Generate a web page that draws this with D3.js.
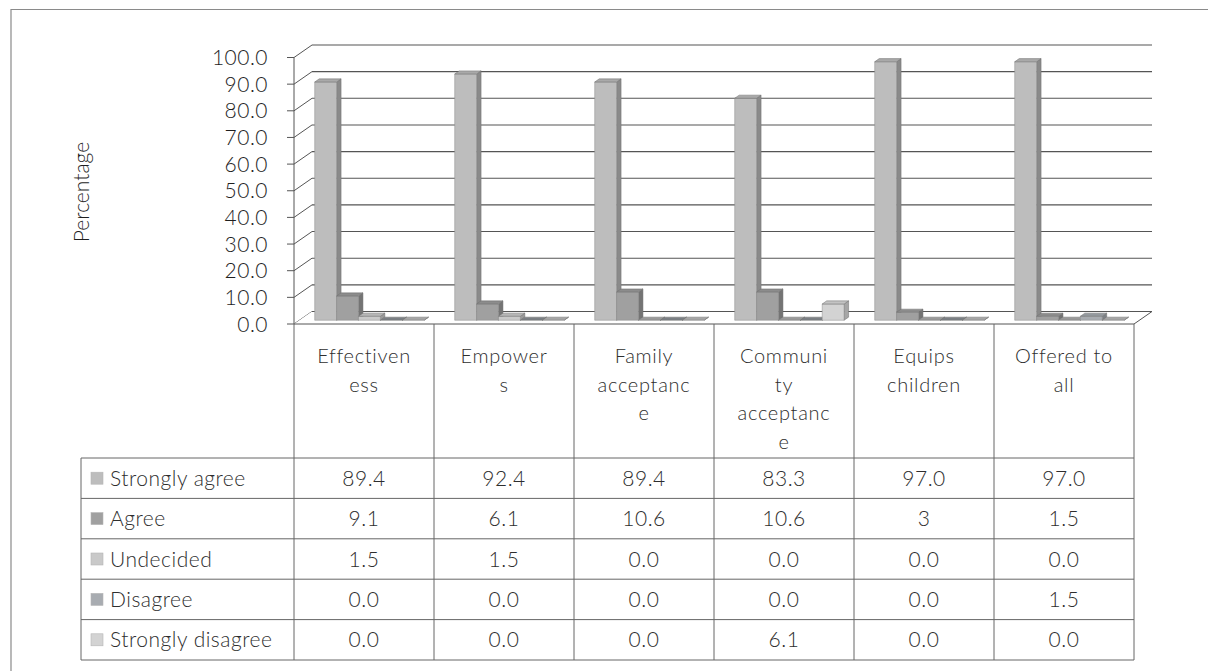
<!DOCTYPE html>
<html>
<head>
<meta charset="utf-8">
<script src="https://cdn.jsdelivr.net/npm/d3@7/dist/d3.min.js"></script>
<style>
  html, body { margin: 0; padding: 0; background: #ffffff; }
  svg { display: block; }
  text { font-family: Lato, "Open Sans", "DejaVu Sans", sans-serif; fill: #2e2e2e; }
</style>
</head>
<body>
<svg id="chart" width="1208" height="671"></svg>
<script>
// Survey responses per statement (percent)
const categories = ["Effectiveness", "Empowers", "Family acceptance",
                    "Community acceptance", "Equips children", "Offered to all"];
// Header text of each column, as wrapped in the data table
const categoryLines = [
  ["Effectiven", "ess"],
  ["Empower", "s"],
  ["Family", "acceptanc", "e"],
  ["Communi", "ty", "acceptanc", "e"],
  ["Equips", "children"],
  ["Offered to", "all"]
];
const seriesNames = ["Strongly agree", "Agree", "Undecided", "Disagree", "Strongly disagree"];
const stronglyAgree    = ["89.4", "92.4", "89.4", "83.3", "97.0", "97.0"];
const agree            = ["9.1", "6.1", "10.6", "10.6", "3", "1.5"];
const undecided        = ["1.5", "1.5", "0.0", "0.0", "0.0", "0.0"];
const disagree         = ["0.0", "0.0", "0.0", "0.0", "0.0", "1.5"];
const stronglyDisagree = ["0.0", "0.0", "0.0", "6.1", "0.0", "0.0"];
const yTickValues = [0, 10, 20, 30, 40, 50, 60, 70, 80, 90, 100];
const yTitle = "Percentage";

const seriesText = [stronglyAgree, agree, undecided, disagree, stronglyDisagree];

// Shading of each series: front face, side face, top face
const seriesColors = [
  { front: "#bdbdbd", side: "#8a8a8a", top: "#a9a9a9" },
  { front: "#a0a0a0", side: "#747474", top: "#8c8c8c" },
  { front: "#c9c9c9", side: "#9a9a9a", top: "#b6b6b6" },
  { front: "#a8acb1", side: "#7c8085", top: "#959a9f" },
  { front: "#d3d3d3", side: "#a6a6a6", top: "#c3c3c3" }
];

const svg = d3.select("#chart");

// Plot frame
const plotLeft = 294, plotRight = 1134;
const depthX = 18, depthY = -12.5;          // offset of the back wall
const barT0 = 0.3, barT1 = 0.55;            // depth of the bar front / back faces

const x = d3.scaleBand().domain(categories).range([plotLeft, plotRight]).padding(0);
const sub = d3.scaleBand().domain(seriesNames).range([0, x.bandwidth()])
  .paddingInner(0).paddingOuter(0.7);
const y = d3.scaleLinear().domain([0, 100]).range([324, 57.5]);
const proj = (px, py, t) => [px + depthX * t, py + depthY * t];
const fmt = d3.format(".1f");

const gridColor = "#555555";
const lineColor = "#666666";

// Outer chart border (top and left edges)
svg.append("path")
  .attr("d", "M11,671 L11,9.5 L1208,9.5")
  .attr("fill", "none").attr("stroke", "#8a8a8a").attr("stroke-width", 1.2);

// Back wall gridlines, side-wall diagonals and tick marks
const grid = svg.append("g");
yTickValues.forEach(v => {
  const yf = y(v);
  const bl = proj(plotLeft, yf, 1), br = proj(plotRight, yf, 1);
  grid.append("line").attr("x1", bl[0]).attr("y1", bl[1]).attr("x2", br[0]).attr("y2", br[1])
    .attr("stroke", gridColor).attr("stroke-width", 1.1);
  grid.append("line").attr("x1", plotLeft).attr("y1", yf).attr("x2", bl[0]).attr("y2", bl[1])
    .attr("stroke", gridColor).attr("stroke-width", 1);
  grid.append("line").attr("x1", plotLeft - 7).attr("y1", yf).attr("x2", plotLeft).attr("y2", yf)
    .attr("stroke", gridColor).attr("stroke-width", 1);
});

// Y axis line
svg.append("line").attr("x1", plotLeft).attr("y1", y(100)).attr("x2", plotLeft).attr("y2", y(0))
  .attr("stroke", gridColor).attr("stroke-width", 1);

// Y tick labels
svg.append("g").selectAll("text").data(yTickValues).join("text")
  .attr("x", 268).attr("y", d => y(d) + 7.5)
  .attr("text-anchor", "end")
  .attr("font-size", 21).attr("letter-spacing", 0.5).attr("font-weight", 300)
  .style("fill", "#1e1e1e")
  .text(d => fmt(d));

// Y axis title
svg.append("text")
  .attr("transform", "translate(89,192) rotate(-90)")
  .attr("text-anchor", "middle")
  .attr("font-size", 21).attr("font-weight", 300)
  .style("fill", "#1e1e1e")
  .text(yTitle);

// Floor
const fl = proj(plotLeft, y(0), 1), fr = proj(plotRight, y(0), 1);
svg.append("polygon")
  .attr("points", [[plotLeft, y(0)], [plotRight, y(0)], fr, fl].map(p => p.join(",")).join(" "))
  .attr("fill", "#ffffff");
svg.append("line").attr("x1", fl[0]).attr("y1", fl[1]).attr("x2", fr[0]).attr("y2", fr[1])
  .attr("stroke", gridColor).attr("stroke-width", 1);

// 3D columns
const bars = svg.append("g");
categories.forEach((cat, ci) => {
  seriesNames.forEach((s, si) => {
    const v = +seriesText[si][ci];
    const c = seriesColors[si];
    const xl = x(cat) + sub(s), xr = xl + sub.bandwidth();
    const yb = y(0), yt = y(v);
    const fTL = proj(xl, yt, barT0), fTR = proj(xr, yt, barT0);
    const fBL = proj(xl, yb, barT0), fBR = proj(xr, yb, barT0);
    const bTL = proj(xl, yt, barT1), bTR = proj(xr, yt, barT1);
    const bBR = proj(xr, yb, barT1);
    const pts = a => a.map(p => p.join(",")).join(" ");
    const g = bars.append("g");
    // right side face
    g.append("polygon").attr("points", pts([fTR, bTR, bBR, fBR]))
      .attr("fill", c.side).attr("stroke", "#6e6e6e").attr("stroke-width", 0.5);
    // front face
    if (v > 0) {
      g.append("polygon").attr("points", pts([fTL, fTR, fBR, fBL]))
        .attr("fill", c.front).attr("stroke", "#8c8c8c").attr("stroke-width", 0.5);
    }
    // top face
    g.append("polygon").attr("points", pts([fTL, fTR, bTR, bTL]))
      .attr("fill", v > 0 ? c.top : c.side).attr("stroke", "#6e6e6e").attr("stroke-width", 0.5);
  });
});

// Front floor edge and right floor edge
svg.append("line").attr("x1", plotLeft).attr("y1", y(0)).attr("x2", plotRight).attr("y2", y(0))
  .attr("stroke", gridColor).attr("stroke-width", 1);
svg.append("line").attr("x1", plotRight).attr("y1", y(0)).attr("x2", fr[0]).attr("y2", fr[1])
  .attr("stroke", gridColor).attr("stroke-width", 1);

// Data table
const tableLeft = 81, headerTop = y(0), rowTop = 458, rowH = 40.4;
const rowY = i => rowTop + rowH * i;
const tableBottom = rowY(seriesNames.length);
const table = svg.append("g");

// column separators
d3.range(categories.length + 1).forEach(i => {
  const cx = plotLeft + x.bandwidth() * i;
  table.append("line").attr("x1", cx).attr("y1", headerTop).attr("x2", cx).attr("y2", tableBottom)
    .attr("stroke", lineColor).attr("stroke-width", 1);
});
table.append("line").attr("x1", tableLeft).attr("y1", rowTop).attr("x2", tableLeft).attr("y2", tableBottom)
  .attr("stroke", lineColor).attr("stroke-width", 1);
// row separators
d3.range(seriesNames.length + 1).forEach(i => {
  table.append("line").attr("x1", tableLeft).attr("y1", rowY(i)).attr("x2", plotRight).attr("y2", rowY(i))
    .attr("stroke", lineColor).attr("stroke-width", 1);
});

// column headers
categories.forEach((cat, ci) => {
  const t = table.append("text")
    .attr("x", x(cat) + x.bandwidth() / 2)
    .attr("text-anchor", "middle")
    .attr("font-size", 20).attr("letter-spacing", 0.7).attr("font-weight", 300);
  categoryLines[ci].forEach((ln, li) => {
    t.append("tspan").attr("x", x(cat) + x.bandwidth() / 2).attr("y", 363 + li * 28.5).text(ln);
  });
});

// legend rows and values
seriesNames.forEach((s, si) => {
  const cy = rowY(si) + rowH / 2;
  table.append("rect").attr("x", 91).attr("y", cy - 6).attr("width", 12).attr("height", 12)
    .attr("fill", seriesColors[si].front).attr("stroke", "#b5b5b5").attr("stroke-width", 0.6);
  table.append("text").attr("x", 110).attr("y", cy + 7.5)
    .attr("font-size", 21).attr("letter-spacing", 0.5).attr("font-weight", 300)
    .text(s);
  categories.forEach((cat, ci) => {
    table.append("text")
      .attr("x", x(cat) + x.bandwidth() / 2).attr("y", cy + 7.5)
      .attr("text-anchor", "middle")
      .attr("font-size", 21).attr("letter-spacing", 0.5).attr("font-weight", 300)
      .text(seriesText[si][ci]);
  });
});
</script>
</body>
</html>
